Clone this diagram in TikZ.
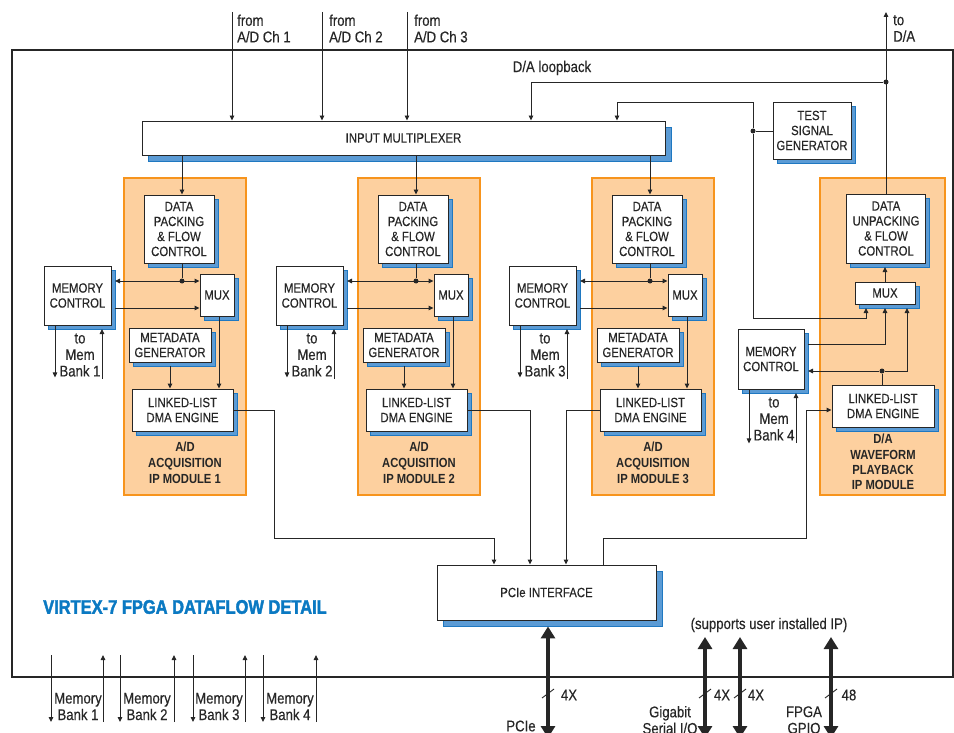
\documentclass[tikz,border=0pt]{standalone}
\usepackage{fontspec}
\setmainfont{Liberation Sans}[FakeStretch=0.85, UprightFeatures={FakeBold=0.3}]
\newfontfamily\titlefont{Liberation Sans}[FakeStretch=0.84, FakeBold=2]
\usetikzlibrary{arrows.meta,shadows}
\definecolor{orfill}{HTML}{FDD09F}
\definecolor{ordraw}{HTML}{F7941D}
\definecolor{shblue}{HTML}{5B9BD5}
\definecolor{shdark}{HTML}{1F78C1}
\definecolor{ttl}{HTML}{0A79C2}
\definecolor{ln}{HTML}{262626}
\tikzset{
 box/.style={draw=ln, fill=white, line width=0.9pt, inner sep=0pt, align=center,
   font=\fontsize{13.4}{15}\selectfont, text=ln},
 sh/.style={drop shadow={shadow xshift=4pt, shadow yshift=-4pt, fill=shblue, draw=shdark, line width=0.8pt, opacity=1}},
 shbig/.style={drop shadow={shadow xshift=6pt, shadow yshift=-6pt, fill=shblue, draw=shdark, line width=0.8pt, opacity=1}},
 modbox/.style={draw=ordraw, fill=orfill, line width=1.2pt, inner sep=0pt},
 lbl/.style={font=\fontsize{15.5}{16.5}\selectfont, text=ln, inner sep=0pt, align=center},
 modlbl/.style={font=\bfseries\fontsize{13.2}{16}\selectfont, text=ln, inner sep=0pt, align=center},
 wire/.style={draw=ln, line width=0.9pt},
 arr/.style={wire, -{Triangle[length=5pt,width=4.5pt]}},
 darr/.style={wire, {Triangle[length=5pt,width=4.5pt]}-{Triangle[length=5pt,width=4.5pt]}},
 big/.style={draw=ln, line width=3.2pt, {Triangle[length=12pt,width=14pt]}-{Triangle[length=12pt,width=14pt]}},
 dot/.style={circle, fill=ln, inner sep=0pt, minimum size=5pt},
}
\begin{document}
\begin{tikzpicture}[x=1pt,y=-1pt]
\useasboundingbox (0,0) rectangle (954,733);
% outer frame
\draw[ln, line width=1.6pt] (12,50) rectangle (953,677);

% top labels
\node[lbl, anchor=west, align=left] (l1) at (237,28.5) {from\\A/D Ch 1};
\node[lbl, anchor=west, align=left] (l2) at (329,28.5) {from\\A/D Ch 2};
\node[lbl, anchor=west, align=left] (l3) at (414,28.5) {from\\A/D Ch 3};
\node[lbl, anchor=west, align=left] (l4) at (893,28.5) {to\\D/A};
\node[lbl] (lbk) at (552,68) {D/A loopback};

% input multiplexer and test signal generator
\node[box, shbig, minimum width=523pt, minimum height=34pt] (im) at (403.5,138) {INPUT MULTIPLEXER};
\node[box, sh, minimum width=78pt, minimum height=57pt] (tsg) at (812,130.5) {TEST\\SIGNAL\\GENERATOR};

% A/D modules
\foreach \i/\dx/\mx in {1/0/0, 2/234/232, 3/468/465} {
  \node[modbox, minimum width=122pt, minimum height=317pt] (m\i) at ({185+\dx},336.5) {};
  \node[box, sh, minimum width=70pt, minimum height=68pt] (dp\i) at ({179+\dx},229) {DATA\\PACKING\\\& FLOW\\CONTROL};
  \node[box, sh, minimum width=34pt, minimum height=42pt] (mux\i) at ({217+\dx},295) {MUX};
  \node[box, sh, minimum width=67pt, minimum height=59pt] (mc\i) at ({77.5+\mx},295.5) {MEMORY\\CONTROL};
  \node[box, sh, minimum width=82pt, minimum height=34pt] (mdg\i) at ({170+\dx},345) {METADATA\\GENERATOR};
  \node[box, sh, minimum width=101pt, minimum height=42pt] (ll\i) at ({182.5+\dx},410) {LINKED-LIST\\DMA ENGINE};
  \node[modlbl] (ml\i) at ({185+\dx},463) {A/D\\ACQUISITION\\IP MODULE \i};
  \node[lbl] (tm\i) at ({80+\mx},355) {to\\Mem\\Bank \i};
  % connectors
  \coordinate (xin\i) at ({182+\dx},0);
  \coordinate (mcr\i) at ({115+\mx},0);
  \coordinate (xmo\i) at ({219+\dx},0);
  \coordinate (xmd\i) at ({170+\dx},0);
  \coordinate (y308) at (0,308);
  \node[dot] (dt\i) at ({182+\dx},281) {};
  \draw[arr] (im.south -| xin\i) -- (dp\i.north -| xin\i);
  \draw[wire] (dp\i.south -| xin\i) -- (dt\i);
  \draw[darr] (mcr\i |- dt\i) -- (mux\i.west |- dt\i);
  \draw[arr] (mcr\i |- y308) -- (mux\i.west |- y308);
  \draw[arr] (mux\i.south -| xmo\i) -- (ll\i.north -| xmo\i);
  \draw[arr] ([yshift=-4pt]mdg\i.south -| xmd\i) -- (ll\i.north -| xmd\i);
  \coordinate (bd\i) at ({55+\mx},0);
  \coordinate (bu\i) at ({102+\mx},379);
  \draw[arr] (mc\i.south -| bd\i) -- ++(0,52);
  \draw[arr] (bu\i) -- ++(0,-50);
}

% D/A module
\node[modbox, minimum width=125pt, minimum height=317pt] (m4) at (882.5,336.5) {};
\node[box, sh, minimum width=79pt, minimum height=69pt] (dup) at (886,228.5) {DATA\\UNPACKING\\\& FLOW\\CONTROL};
\node[box, sh, minimum width=60pt, minimum height=22pt] (damux) at (885,293) {MUX};
\node[box, sh, minimum width=66pt, minimum height=60pt] (mc4) at (771,359) {MEMORY\\CONTROL};
\node[box, sh, minimum width=102pt, minimum height=42pt] (llda) at (883,406) {LINKED-LIST\\DMA ENGINE};
\node[modlbl, font=\bfseries\fontsize{13.2}{15.3}\selectfont] (ml4) at (883,462) {D/A\\WAVEFORM\\PLAYBACK\\IP MODULE};
\node[lbl] (tm4) at (774,419) {to\\Mem\\Bank 4};

% PCIe interface
\node[box, shbig, minimum width=219pt, minimum height=55pt] (pcie) at (546.5,592.5) {PCIe INTERFACE};

% title
\node[anchor=west, inner sep=0pt, text=ttl, font=\titlefont\bfseries\fontsize{19.6}{21}\selectfont] (title) at (43,607) {VIRTEX-7 FPGA DATAFLOW DETAIL};

% input channel arrows
\coordinate (c1) at (232,12);
\coordinate (c2) at (322,12);
\coordinate (c3) at (407,12);
\draw[arr] (c1) -- (c1 |- im.north);
\draw[arr] (c2) -- (c2 |- im.north);
\draw[arr] (c3) -- (c3 |- im.north);

% D/A output and loopback
\coordinate (tda) at (886,12);
\node[dot] (lb) at (886,82) {};
\coordinate (xlb) at (531,0);
\draw[arr] (dup.north) -- (tda);
\draw[arr] (lb) -| (xlb |- im.north);

% test signal generator
\node[dot] (tsd) at (753,131) {};
\coordinate (tstop) at (753,102);
\coordinate (x617) at (617,0);
\coordinate (m4a) at (866,318);
\coordinate (dms) at (0,308);
\draw[wire] (tsg.west |- tsd) -- (tsd);
\draw[arr] (tsd) -- (tstop) -| (x617 |- im.north);
\draw[arr] (tsd) |- (m4a) -- (m4a |- dms);

% D/A module internals
\coordinate (dups) at (0,267);
\draw[arr] (damux.north) -- (damux.north |- dups);
\coordinate (mc4o) at (808,344);
\coordinate (x885) at (885,0);
\draw[arr] (mc4o) -| (x885 |- dms);
\node[dot] (ddot) at (882,371) {};
\coordinate (x907) at (907,0);
\coordinate (mc4i) at (808,371);
\draw[wire] (llda.north -| ddot) -- (ddot);
\draw[arr] (ddot) -- (mc4i);
\draw[arr] (ddot) -| (x907 |- dms);
\coordinate (bd4) at (749,0);
\coordinate (bu4) at (796,443);
\draw[arr] (mc4.south -| bd4) -- ++(0,54);
\draw[arr] (bu4) -- ++(0,-50);

% to PCIe
\coordinate (p1) at (494,0);
\coordinate (p2) at (530,0);
\coordinate (p3) at (566,0);
\coordinate (p4) at (603,0);
\coordinate (y410) at (0,410);
\draw[arr] (ll1.east) -| (274,538) -| (p1 |- pcie.north);
\draw[arr] (ll2.east) -| (p2 |- pcie.north);
\draw[arr] (ll3.west) -| (p3 |- pcie.north);
\draw[arr] (p4 |- pcie.north) |- (806,538) |- (llda.west |- y410);

% bottom memory bank arrows
\foreach \k/\xd/\xu/\xt in {1/51/103/78, 2/120/174/147, 3/193/245/219, 4/263/316/290} {
  \coordinate (md\k) at (\xd,655);
  \coordinate (mu\k) at (\xu,722);
  \draw[arr] (md\k) -- ++(0,67);
  \draw[arr] (mu\k) -- ++(0,-67);
  \node[lbl] (mb\k) at (\xt,706.5) {Memory\\Bank \k};
}

% thick I/O arrows
\coordinate (pb) at (548,738);
\draw[big] ([yshift=-6pt]pcie.south -| pb) -- (pb);
\coordinate (g1) at (705,738);
\coordinate (g2) at (740,738);
\coordinate (g3) at (831,738);
\draw[big] (705,637) -- (g1);
\draw[big] (740,637) -- (g2);
\draw[big] (831,637) -- (g3);
\foreach \x in {548,705,740,831} {
  \draw[wire] (\x-6,698) -- (\x+6,689);
}
\node[lbl] (sup) at (769,625) {(supports user installed IP)};
\node[lbl] (x4a) at (569,695) {4X};
\node[lbl] (x4b) at (722,695) {4X};
\node[lbl] (x4c) at (756,695) {4X};
\node[lbl] (x48) at (849,695) {48};
\node[lbl] (pcl) at (521,726) {PCIe};
\node[lbl] (gsl) at (670,720) {Gigabit\\Serial I/O};
\node[lbl] (gpl) at (804,720) {FPGA\\GPIO};
\end{tikzpicture}
\end{document}
